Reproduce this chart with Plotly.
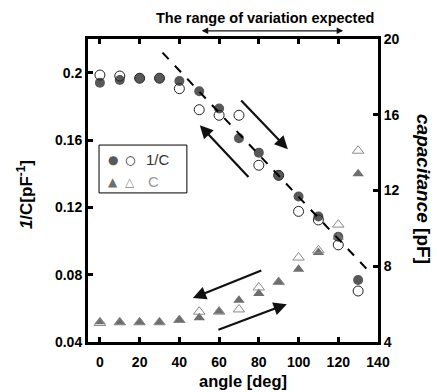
import plotly.graph_objects as go

angle = [0, 10, 20, 30, 40, 50, 60, 70, 80, 90, 100, 110, 120, 130]
inv_c_filled = [0.194, 0.1956, 0.1967, 0.1967, 0.195, 0.189, 0.1787, 0.161, 0.1525, 0.139, 0.1264, 0.1146, 0.1025, 0.0768]
inv_c_open = [0.1986, 0.198, 0.1967, 0.1967, 0.1905, 0.178, 0.1747, 0.1747, 0.145, 0.139, 0.1176, 0.1125, 0.0977, 0.0703]
cap_filled = [5.07, 5.04, 5.04, 5.04, 5.16, 5.28, 5.63, 6.2, 6.56, 7.17, 7.84, 8.72, 9.55, 12.88]
cap_open = [5.0, 5.04, 5.04, 5.04, 5.16, 5.6, 5.6, 5.72, 6.88, 7.17, 8.46, 8.84, 10.2, 14.1]

x_ticks = [0, 20, 40, 60, 80, 100, 120, 140]
y1_ticks = [0.04, 0.08, 0.12, 0.16, 0.2]
y1_labels = ["0.04", "0.08", "0.12", "0.16", "0.2"]
y2_ticks = [4, 8, 12, 16, 20]

fit_x = [31.5, 136.7]
fit_y = [0.2119, 0.0804]

FONT = "Liberation Sans, Arial, sans-serif"

fig = go.Figure()
fig.add_trace(go.Scatter(x=angle, y=cap_filled, mode="markers", yaxis="y2",
                         marker=dict(symbol="triangle-up", size=10, color="#6e6e6e"), showlegend=False))
fig.add_trace(go.Scatter(x=angle, y=cap_open, mode="markers", yaxis="y2",
                         marker=dict(symbol="triangle-up-open", size=10, color="#8a8a8a", line=dict(width=1)), showlegend=False))
fig.add_trace(go.Scatter(x=angle, y=inv_c_filled, mode="markers",
                         marker=dict(symbol="circle", size=10, color="#585858"), showlegend=False))
fig.add_trace(go.Scatter(x=angle, y=inv_c_open, mode="markers",
                         marker=dict(symbol="circle-open", size=10, color="#222222", line=dict(width=1)), showlegend=False))

fig.add_shape(type="line", x0=fit_x[0], y0=fit_y[0], x1=fit_x[1], y1=fit_y[1],
              xref="x", yref="y", line=dict(color="black", width=2, dash="dash"))

arrows = [
    (70.4, 0.1843, 94.6, 0.1545),
    (75.5, 0.1371, 50.3, 0.1688),
    (82.0, 0.0828, 46.8, 0.0661),
    (58.9, 0.0470, 94.1, 0.0625),
]
for ax_, ay_, x_, y_ in arrows:
    fig.add_annotation(x=x_, y=y_, ax=ax_, ay=ay_, xref="x", yref="y", axref="x", ayref="y",
                       showarrow=True, arrowhead=2, arrowsize=1.2, arrowwidth=2.2,
                       arrowcolor="#111111", text="")

# top double arrow (paper coords, pixel offset)
fig.add_annotation(x=0.880, y=1.027, xref="paper", yref="paper", ax=-143, ay=0,
                   showarrow=True, arrowhead=2, startarrowhead=2, arrowside="end+start",
                   arrowsize=1, startarrowsize=1, arrowwidth=1.3, arrowcolor="#111111", text="")
fig.add_annotation(x=0.610, y=1.069, xref="paper", yref="paper", showarrow=False,
                   xanchor="center", yanchor="middle",
                   text="<b>The range of variation expected</b>",
                   font=dict(family=FONT, size=14.5, color="black"))

# legend box
fig.add_shape(type="rect", xref="paper", yref="paper", x0=0.038, x1=0.341, y0=0.492, y1=0.650,
              line=dict(color="black", width=1), fillcolor="white", layer="below")
leg_items = [
    (0.0862, 0.6007, "●", "#585858"),
    (0.1448, 0.6007, "○", "#222222"),
    (0.0862, 0.5281, "▲", "#6e6e6e"),
    (0.1448, 0.5281, "△", "#8a8a8a"),
]
for lx, ly, g, col in leg_items:
    fig.add_annotation(xref="paper", yref="paper", x=lx, y=ly, showarrow=False, text=g,
                       xanchor="center", yanchor="middle",
                       font=dict(family="DejaVu Sans", size=12, color=col))
fig.add_annotation(xref="paper", yref="paper", x=0.193, y=0.6007, xanchor="left", yanchor="middle",
                   showarrow=False, text="1/C", font=dict(family=FONT, size=15, color="#333333"))
fig.add_annotation(xref="paper", yref="paper", x=0.200, y=0.5281, xanchor="left", yanchor="middle",
                   showarrow=False, text="C", font=dict(family=FONT, size=15, color="#999999"))

# axis titles
fig.add_annotation(xref="paper", yref="paper", x=1.155, y=0.505, showarrow=False, textangle=90,
                   xanchor="center", yanchor="middle",
                   text="<b><i>capacitance</i> [pF]</b>",
                   font=dict(family=FONT, size=19, color="black"))
fig.add_annotation(xref="paper", yref="paper", x=-0.217, y=0.485, showarrow=False, textangle=-90,
                   xanchor="center", yanchor="middle",
                   text="<b><i>1</i>/C[pF<sup>-1</sup>]</b>",
                   font=dict(family=FONT, size=17, color="black"))
fig.add_annotation(xref="paper", yref="paper", x=0.534, y=-0.13, showarrow=False,
                   xanchor="center", yanchor="middle",
                   text="<b>angle [deg]</b>",
                   font=dict(family=FONT, size=16.5, color="black"))

axis_common = dict(showline=True, linecolor="black", linewidth=3, ticks="inside",
                   ticklen=5, tickwidth=3, tickcolor="black", showgrid=False, zeroline=False,
                   tickfont=dict(family=FONT, size=14, color="black"))

fig.update_layout(
    width=437, height=392,
    margin=dict(l=88, r=59, t=39, b=50),
    plot_bgcolor="white", paper_bgcolor="white",
    font=dict(family=FONT, color="black"),
    xaxis=dict(range=[-6, 140], tickvals=x_ticks, ticktext=[f"<b>{v}</b>" for v in x_ticks],
               mirror="ticks", ticklabelstandoff=5, **axis_common),
    yaxis=dict(range=[0.04, 0.22], tickvals=y1_ticks, ticktext=[f"<b>{t}</b>" for t in y1_labels],
               **axis_common),
    yaxis2=dict(range=[4, 20], tickvals=y2_ticks, ticktext=[f"<b>{v}</b>" for v in y2_ticks],
                overlaying="y", side="right", **axis_common),
)

fig.write_html("out.html")
